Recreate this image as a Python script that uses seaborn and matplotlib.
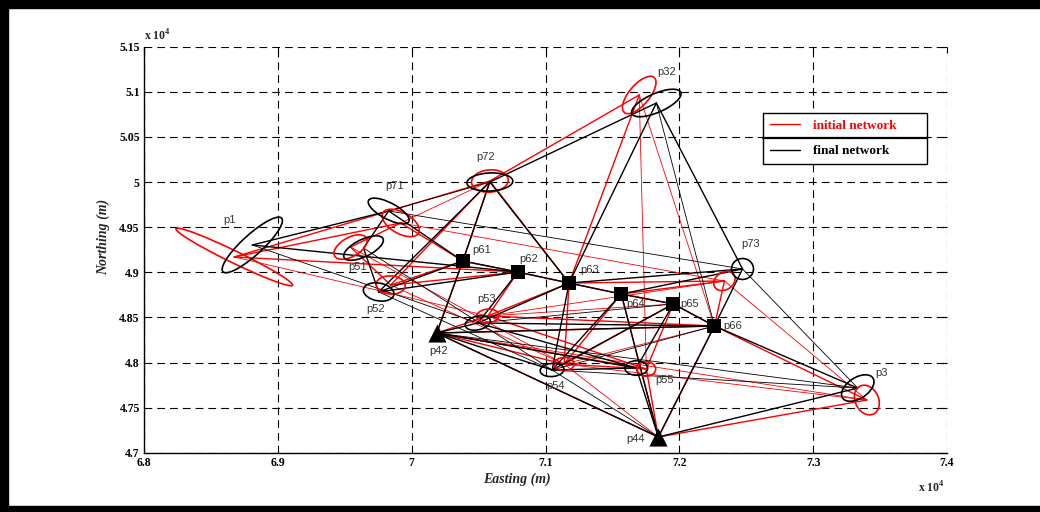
import numpy as np
import pandas as pd
import matplotlib
matplotlib.use("Agg")
import matplotlib.pyplot as plt
from matplotlib.patches import Ellipse, Rectangle
from matplotlib.lines import Line2D
from matplotlib.ticker import MultipleLocator, FuncFormatter
import seaborn as sns

# station names, free stations first (they carry error ellipses)
names = ["p1", "p71", "p72", "p51", "p52", "p53", "p54", "p55", "p73", "p3", "p32",
         "p61", "p62", "p63", "p64", "p65", "p66", "p42", "p44"]
square_pts = ["p61", "p62", "p63", "p64", "p65", "p66"]
triangle_pts = ["p42", "p44"]

# coordinates (m) of the final network
final_e = [68809, 69828, 70584, 69640, 69753, 70494, 71049, 71678, 72472, 73333, 71828,
           70382, 70794, 71176, 71566, 71955, 72262, 70187, 71843]
final_n = [49303, 49680, 50001, 49269, 48782, 48438, 47917, 47939, 49037, 47717, 50877,
           49125, 49003, 48881, 48759, 48649, 48405, 48327, 47174]
# coordinates (m) of the initial network
initial_e = [68674, 69918, 70584, 69543, 69843, 70569, 71139, 71753, 72337, 73401, 71700,
             70382, 70794, 71176, 71566, 71955, 72262, 70187, 71843]
initial_n = [49170, 49547, 50012, 49280, 48859, 48516, 47983, 47928, 48904, 47584, 50966,
             49125, 49003, 48881, 48759, 48649, 48405, 48327, 47174]

# error ellipses (semi axes in m, orientation in deg) for the free stations
final_a = [371, 193, 172, 182, 120, 100, 90, 85, 116, 165, 220]
final_b = [90, 80, 100, 85, 95, 72, 72, 80, 82, 95, 95]
final_ang = [55, -42, 5, 41, -30, 30, 15, 0, 90, 56, 37]
initial_a = [537, 180, 139, 160, 110, 85, 75, 80, 110, 166, 227]
initial_b = [60, 100, 122, 90, 100, 75, 72, 70, 75, 90, 85]
initial_ang = [-36, -50, 20, 50, -20, 20, 0, 90, 70, 100, 64]

# observations
main_edges = [("p1", "p71"), ("p1", "p62"), ("p71", "p51"), ("p71", "p61"), ("p72", "p52"),
              ("p72", "p61"), ("p72", "p63"), ("p72", "p32"), ("p51", "p52"), ("p52", "p61"),
              ("p52", "p62"), ("p61", "p62"), ("p62", "p63"), ("p63", "p64"), ("p64", "p65"),
              ("p65", "p66"), ("p61", "p42"), ("p62", "p53"), ("p63", "p53"), ("p63", "p73"),
              ("p63", "p54"), ("p63", "p32"), ("p64", "p73"), ("p64", "p54"), ("p64", "p44"),
              ("p65", "p54"), ("p65", "p55"), ("p66", "p44"), ("p66", "p3"), ("p66", "p53"),
              ("p66", "p42"), ("p3", "p44"), ("p42", "p44"), ("p42", "p53"), ("p42", "p54"),
              ("p54", "p55"), ("p53", "p55"), ("p55", "p44"), ("p66", "p73"), ("p42", "p55")]
side_edges = [("p71", "p72"), ("p71", "p73"), ("p1", "p53"), ("p51", "p54"), ("p32", "p66"),
              ("p3", "p73"), ("p3", "p42"), ("p3", "p54"), ("p66", "p54"), ("p53", "p65"),
              ("p52", "p54"), ("p54", "p44")]
initial_only_main = [("p1", "p72")]
initial_only_side = [("p32", "p55"), ("p73", "p53")]
final_only_main = [("p32", "p73")]

# label offsets in pixels
label_offsets = {"p1": (-23, 25), "p71": (6, 25), "p72": (-4, 25), "p51": (-6, -19),
                 "p52": (-3, -17), "p61": (19, 11), "p62": (11, 13), "p53": (9, 24),
                 "p63": (21, 13), "p64": (14, -10), "p65": (16, 0), "p66": (18, 0),
                 "p73": (8, 25), "p32": (10, 31), "p42": (2, -18), "p54": (3, -16),
                 "p55": (28, -12), "p44": (-23, -2), "p3": (24, 15)}


def edge_frame(xs, ys, edges):
    pos = {n: (x, y) for n, x, y in zip(names, xs, ys)}
    rows = []
    for k, (a, b) in enumerate(edges):
        for n in (a, b):
            rows.append({"edge": k, "E": pos[n][0], "N": pos[n][1]})
    return pd.DataFrame(rows)


def draw_edges(ax, xs, ys, edges, color, lw):
    df = edge_frame(xs, ys, edges)
    sns.lineplot(data=df, x="E", y="N", units="edge", estimator=None, sort=False,
                 color=color, lw=lw, ax=ax, zorder=2)


sns.set_style("white")
plt.rcParams["font.family"] = ["Liberation Serif", "DejaVu Serif"]
plt.rcParams["mathtext.fontset"] = "custom"
plt.rcParams["mathtext.rm"] = "Liberation Serif:bold"
plt.rcParams["mathtext.bf"] = "Liberation Serif:bold"

fig, ax = plt.subplots(figsize=(10.4, 5.12), dpi=100)
fig.subplots_adjust(left=0.1385, right=0.9106, bottom=0.1158, top=0.9086)

# initial network (red) then final network (black)
draw_edges(ax, initial_e, initial_n, main_edges + initial_only_main, "red", 1.0)
draw_edges(ax, initial_e, initial_n, side_edges + initial_only_side, "red", 0.6)
draw_edges(ax, final_e, final_n, main_edges + final_only_main, "black", 1.0)
draw_edges(ax, final_e, final_n, side_edges, "black", 0.6)

for i in range(len(initial_a)):
    ax.add_patch(Ellipse((initial_e[i], initial_n[i]), 2 * initial_a[i], 2 * initial_b[i],
                         angle=initial_ang[i], fill=False, ec="red", lw=1.2, zorder=3))
    ax.add_patch(Ellipse((final_e[i], final_n[i]), 2 * final_a[i], 2 * final_b[i],
                         angle=final_ang[i], fill=False, ec="black", lw=1.2, zorder=3))

pts = pd.DataFrame({"name": names, "E": final_e, "N": final_n})
sq = pts[pts["name"].isin(square_pts)]
tr = pts[pts["name"].isin(triangle_pts)]
sns.scatterplot(data=sq, x="E", y="N", marker="s", s=90, color="black", lw=0, ax=ax, zorder=5)
sns.scatterplot(data=tr, x="E", y="N", marker="^", s=170, color="black", lw=0, ax=ax, zorder=5)

for n, x, y in zip(names, final_e, final_n):
    ax.annotate(n, (x, y), xytext=label_offsets[n], textcoords="offset pixels",
                ha="center", va="center", fontsize=8, color="#333333",
                family=["Liberation Sans", "DejaVu Sans"], zorder=6)

# axes
ax.set_xlim(68000, 74000)
ax.set_ylim(47000, 51500)
ax.xaxis.set_major_locator(MultipleLocator(1000))
ax.yaxis.set_major_locator(MultipleLocator(500))
fmt = FuncFormatter(lambda v, p: f"{v / 1e4:g}")
ax.xaxis.set_major_formatter(fmt)
ax.yaxis.set_major_formatter(fmt)
ax.tick_params(direction="in", length=4, width=0.8, top=True, right=True,
               labelsize=8.5, colors="black", pad=3)
for lab in ax.get_xticklabels() + ax.get_yticklabels():
    lab.set_fontweight("bold")
ax.grid(True, color="black", lw=0.8, ls=(0, (7, 4.5)))
ax.set_axisbelow(True)
for side in ["top", "right"]:
    ax.spines[side].set_visible(False)
for side in ["left", "bottom"]:
    ax.spines[side].set_color("black")
    ax.spines[side].set_linewidth(1.0)

ax.set_xlabel("Easting (m)", fontsize=10, fontweight="bold", style="italic")
ax.set_ylabel("Northing (m)", fontsize=10, fontweight="bold", style="italic")
ax.xaxis.set_label_coords(0.4645, -0.048)
ax.yaxis.set_label_coords(-0.042, 0.531)

ax.text(0.0, 1.008, r"x 10$^{4}$", transform=ax.transAxes, fontsize=8.5,
        fontweight="bold", ha="left", va="bottom")
ax.text(0.964, -0.068, r"x 10$^{4}$", transform=ax.transAxes, fontsize=8.5,
        fontweight="bold", ha="left", va="top")

handles = [Line2D([], [], color="red", lw=1), Line2D([], [], color="black", lw=1)]
leg = ax.legend(handles, ["initial network       ", "final network         "],
                loc="upper left", bbox_to_anchor=(0.771, 0.837), borderaxespad=0,
                frameon=True, fancybox=False, edgecolor="black", framealpha=1,
                prop={"family": "Liberation Serif", "weight": "bold", "size": 9.5},
                labelcolor="linecolor", handlelength=2.3, handletextpad=1.0,
                labelspacing=1.0, borderpad=0.5)
leg.get_frame().set_linewidth(1.0)
leg.set_zorder(10)

# figure frame
fig.add_artist(Rectangle((0, 0), 8 / 1040, 1, transform=fig.transFigure, color="black"))
fig.add_artist(Rectangle((0, 1 - 8 / 512), 1, 8 / 512, transform=fig.transFigure, color="black"))
fig.add_artist(Rectangle((0, 0), 1, 6 / 512, transform=fig.transFigure, color="black"))

# divider between legend rows
fig.canvas.draw()
bb = leg.get_window_extent().transformed(fig.transFigure.inverted())
ymid = (bb.y0 + bb.y1) / 2
fig.add_artist(Line2D([bb.x0, bb.x1], [ymid, ymid], transform=fig.transFigure,
                      color="black", lw=1.6, zorder=11))

fig.savefig("out.png", dpi=100)
